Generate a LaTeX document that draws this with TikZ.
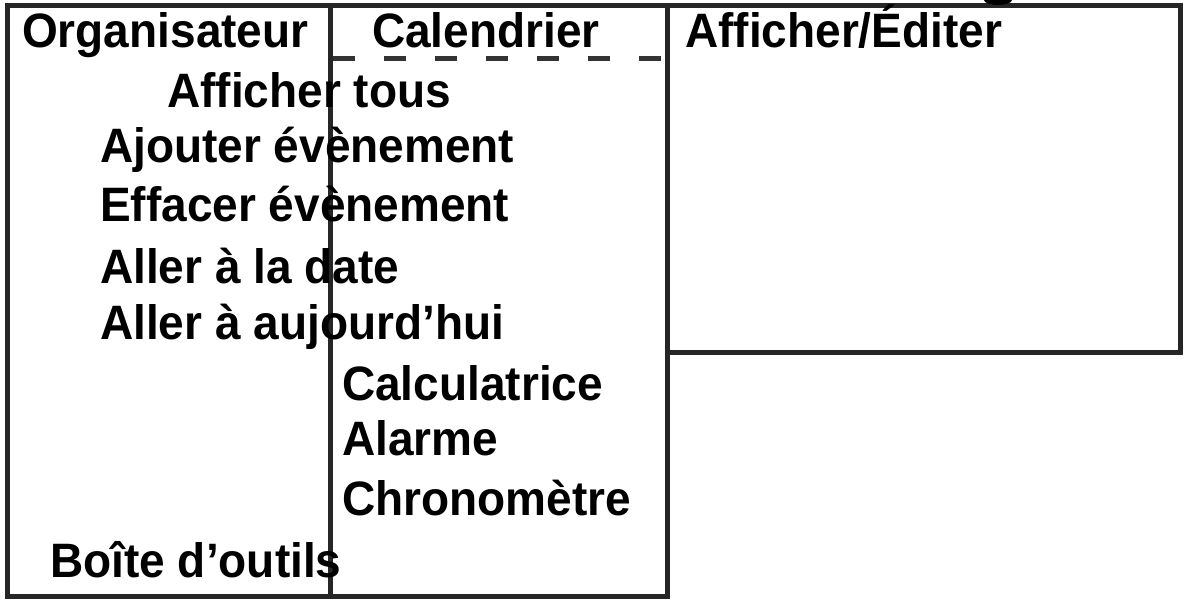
\documentclass[tikz,border=0pt]{standalone}
\usepackage{fontspec}
\usepackage{graphicx}
\setmainfont{Liberation Sans}
\newcommand{\tall}[1]{\scalebox{1}[1.05]{#1}}
\begin{document}
\begin{tikzpicture}[x=1pt,y=-1pt,
  panel/.style={draw=black!85,line width=5pt},
  sep/.style={draw=black!80,line width=5pt,dash pattern=on 22pt off 29pt},
  lbl/.style={anchor=base west,inner sep=0pt,font=\fontsize{46}{55}\selectfont\bfseries}]
\useasboundingbox[fill=white] (0,0) rectangle (1187,601);
\clip (0,0) rectangle (1187,601);
% panels
\draw[panel] (7,6) rectangle (330,596);
\draw[panel] (330,6) rectangle (667,596);
\draw[panel] (667,6) rectangle (1180,353);
\draw[sep] (333,59) -- (667,59);
% cut-off glyph at the top
\fill[black] (998,0) ellipse [x radius=14pt, y radius=5pt];
% texts
\node[lbl] (org) at (22,48) {\tall{Organisateur}};
\node[lbl] (cal) at (372,48) {\tall{Calendrier}};
\node[lbl] (aff) at (685,48) {\tall{Afficher/Éditer}};
\node[lbl] (tous) at (167,108) {\tall{Afficher tous}};
\node[lbl] (ajou) at (100,163) {\tall{Ajouter évènement}};
\node[lbl] (eff) at (100,222) {\tall{Effacer évènement}};
\node[lbl] (date) at (100,284) {\tall{Aller à la date}};
\node[lbl] (auj) at (100,340) {\tall{Aller à aujourd’hui}};
\node[lbl] (calc) at (342,401) {\tall{Calculatrice}};
\node[lbl] (alar) at (342,456) {\tall{Alarme}};
\node[lbl] (chro) at (342,515) {\tall{Chronomètre}};
\node[lbl] (boit) at (50,577) {\tall{Boîte d’outils}};
\end{tikzpicture}
\end{document}
